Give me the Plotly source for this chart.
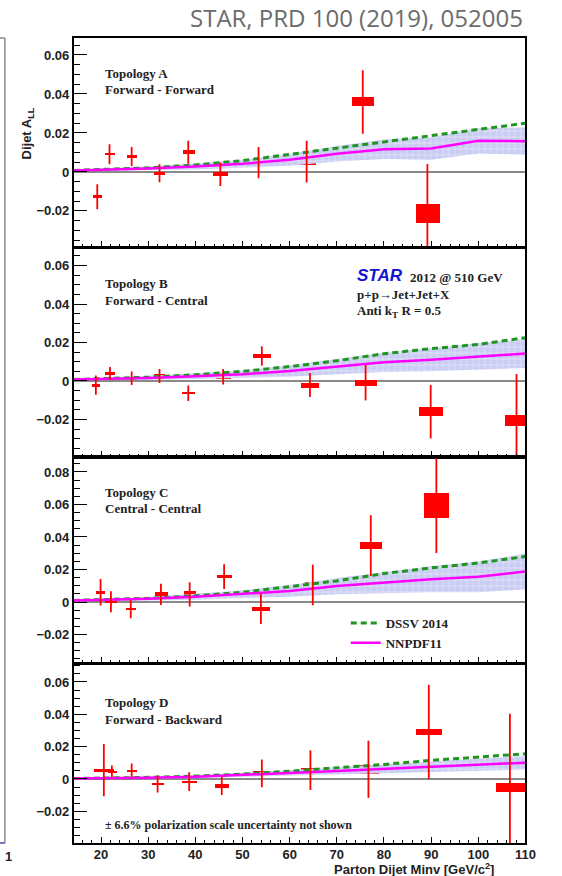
import plotly.graph_objects as go

W, H = 562, 876

# ---------------- data ----------------
panels = ["A", "B", "C", "D"]
topology_titles = ["Topology A", "Topology B", "Topology C", "Topology D"]
topology_sub = ["Forward - Forward", "Forward - Central", "Central - Central", "Forward - Backward"]

xA = [19.2, 21.8, 26.5, 32.4, 38.5, 45.3, 53.4, 63.6, 75.5, 89.2]
yA = [-0.0127, 0.0091, 0.0079, -0.0007, 0.0101, -0.0012, 0.0048, 0.0053, 0.0359, -0.0212]
statA = [0.0064, 0.0051, 0.0049, 0.0046, 0.0059, 0.0060, 0.0080, 0.0107, 0.0163, 0.0253]
sxA = [0.95, 1.0, 1.1, 1.2, 1.25, 1.6, 1.75, 2.0, 2.35, 2.55]
syA = [0.0007, 0.0006, 0.0006, 0.0009, 0.0009, 0.0011, 0.0017, 0.0016, 0.0023, 0.0050]

xB = [18.9, 21.9, 26.5, 32.4, 38.5, 45.9, 54.1, 64.3, 76.1, 89.9, 108.1]
yB = [-0.0022, 0.0040, 0.0014, 0.0026, -0.0064, 0.0022, 0.0130, -0.0021, -0.0009, -0.0160, -0.0206]
statB = [0.0050, 0.0033, 0.0035, 0.0036, 0.0040, 0.0040, 0.0050, 0.0062, 0.0092, 0.0139, 0.0242]
sxB = [0.9, 1.05, 1.1, 1.2, 1.35, 1.5, 1.85, 1.9, 2.25, 2.55, 2.5]
syB = [0.0005, 0.0005, 0.0005, 0.0008, 0.0006, 0.0013, 0.0011, 0.0013, 0.0016, 0.0023, 0.0030]

xC = [19.9, 22.1, 26.3, 32.7, 38.8, 46.1, 53.9, 64.9, 77.2, 91.1]
yC = [0.0060, 0.0002, -0.0043, 0.0047, 0.0047, 0.0156, -0.0043, 0.0105, 0.0347, 0.0593]
statC = [0.0082, 0.0065, 0.0056, 0.0065, 0.0075, 0.0076, 0.0092, 0.0125, 0.0187, 0.0292]
sxC = [0.95, 1.25, 1.15, 1.4, 1.3, 1.5, 1.9, 1.8, 2.4, 2.7]
syC = [0.0006, 0.0007, 0.0006, 0.0012, 0.0018, 0.0010, 0.0015, 0.0020, 0.0021, 0.0077]

xD = [20.6, 22.3, 26.5, 32.0, 38.7, 45.6, 54.1, 64.4, 76.7, 89.5, 106.7]
yD = [0.0055, 0.0045, 0.0051, -0.0031, -0.0016, -0.0043, 0.0035, 0.0055, 0.0060, 0.0291, -0.0053]
statD = [0.0162, 0.0038, 0.0045, 0.0053, 0.0058, 0.0056, 0.0086, 0.0123, 0.0177, 0.0292, 0.0457]
sxD = [2.15, 0.95, 1.05, 1.3, 1.5, 1.5, 1.85, 2.0, 2.25, 2.8, 3.1]
syD = [0.0006, 0.0006, 0.0006, 0.0006, 0.0006, 0.0011, 0.0012, 0.0015, 0.0028, 0.0020, 0.0029]

# theory curves (on a common mass grid)
theory_x = [14.2, 20, 30, 40, 50, 60, 70, 80, 90, 100, 110]
dssvA = [0.0008, 0.0012, 0.0021, 0.0036, 0.0058, 0.0090, 0.0122, 0.0152, 0.0183, 0.0215, 0.0250]
nnpdfA = [0.0008, 0.0011, 0.0018, 0.0028, 0.0042, 0.0062, 0.0093, 0.0116, 0.0120, 0.0160, 0.0158]
bandA = [0.0003, 0.0005, 0.0010, 0.0015, 0.0020, 0.0030, 0.0040, 0.0050, 0.0058, 0.0065, 0.0070]

dssvB = [0.0008, 0.0012, 0.0020, 0.0032, 0.0050, 0.0075, 0.0105, 0.0142, 0.0168, 0.0190, 0.0225]
nnpdfB = [0.0008, 0.0010, 0.0016, 0.0025, 0.0035, 0.0052, 0.0075, 0.0097, 0.0110, 0.0128, 0.0143]
bandB = [0.0003, 0.0005, 0.0010, 0.0015, 0.0020, 0.0030, 0.0040, 0.0050, 0.0060, 0.0070, 0.0075]

dssvC = [0.0010, 0.0014, 0.0023, 0.0038, 0.0060, 0.0095, 0.0130, 0.0175, 0.0210, 0.0240, 0.0280]
nnpdfC = [0.0010, 0.0012, 0.0020, 0.0032, 0.0048, 0.0068, 0.0098, 0.0118, 0.0140, 0.0155, 0.0188]
bandC = [0.0003, 0.0005, 0.0010, 0.0018, 0.0025, 0.0035, 0.0050, 0.0065, 0.0080, 0.0095, 0.0110]

dssvD = [0.0003, 0.0005, 0.0010, 0.0018, 0.0030, 0.0048, 0.0068, 0.0090, 0.0115, 0.0135, 0.0156]
nnpdfD = [0.0003, 0.0004, 0.0008, 0.0014, 0.0024, 0.0037, 0.0050, 0.0063, 0.0077, 0.0090, 0.0101]
bandD = [0.0002, 0.0003, 0.0005, 0.0008, 0.0012, 0.0017, 0.0022, 0.0028, 0.0033, 0.0038, 0.0043]

x_range = [14.2, 110]
y_ranges = [[-0.0385, 0.0687], [-0.0395, 0.0691], [-0.0375, 0.0892], [-0.0396, 0.0711]]
x_tick_step = 10
y_tick_step = 0.02

data = {
    "A": (xA, yA, statA, sxA, syA, dssvA, nnpdfA, bandA),
    "B": (xB, yB, statB, sxB, syB, dssvB, nnpdfB, bandB),
    "C": (xC, yC, statC, sxC, syC, dssvC, nnpdfC, bandC),
    "D": (xD, yD, statD, sxD, syD, dssvD, nnpdfD, bandD),
}

# ---------------- layout geometry (pixels) ----------------
plot_left, plot_right = 75, 535
panel_px = [(38, 247), (248, 457), (457, 663), (664, 843)]

RED = "#ff0000"
GREEN = "#1f961f"
MAGENTA = "#ff00ff"
BAND = "#c9ccf3"
SERIF = "Liberation Serif"
SANS = "Liberation Sans"

fig = go.Figure()

for i, p in enumerate(panels):
    n = i + 1
    xs, ys, st, sx, sy, dssv, nnpdf, band = data[p]
    xa = "x" if n == 1 else f"x{n}"
    ya = "y" if n == 1 else f"y{n}"
    lo = [c - e for c, e in zip(nnpdf, band)]
    hi = [c + e for c, e in zip(nnpdf, band)]
    fig.add_trace(go.Scatter(x=theory_x, y=lo, mode="lines", line=dict(width=0),
                             xaxis=xa, yaxis=ya, showlegend=False, hoverinfo="skip"))
    fig.add_trace(go.Scatter(x=theory_x, y=hi, mode="lines", line=dict(width=0),
                             fill="tonexty", fillcolor=BAND,
                             fillpattern=dict(shape="+", bgcolor=BAND, fgcolor="white",
                                              size=6, solidity=0.12, fillmode="replace"),
                             xaxis=xa, yaxis=ya, showlegend=False, hoverinfo="skip"))
    fig.add_trace(go.Scatter(x=theory_x, y=dssv, mode="lines", name="DSSV 2014",
                             line=dict(color=GREEN, width=3, dash="6px,4px"),
                             xaxis=xa, yaxis=ya, showlegend=(p == "C")))
    fig.add_trace(go.Scatter(x=theory_x, y=nnpdf, mode="lines", name="NNPDF11",
                             line=dict(color=MAGENTA, width=2.5),
                             xaxis=xa, yaxis=ya, showlegend=(p == "C")))
    # systematic boxes
    fig.add_trace(go.Bar(x=xs, y=[2 * s for s in sy], base=[c - s for c, s in zip(ys, sy)],
                         width=[2 * w for w in sx], marker=dict(color=RED, line=dict(width=0)),
                         xaxis=xa, yaxis=ya, showlegend=False, hoverinfo="skip"))
    # statistical error bars
    fig.add_trace(go.Scatter(x=xs, y=ys, mode="markers", marker=dict(size=1, color=RED),
                             error_y=dict(type="data", array=st, visible=True, color=RED,
                                          thickness=1.8, width=0),
                             xaxis=xa, yaxis=ya, showlegend=False))

layout = dict(
    width=W, height=H, autosize=False,
    margin=dict(l=0, r=0, t=0, b=0),
    paper_bgcolor="white", plot_bgcolor="white",
    barmode="overlay", bargap=0,
    showlegend=True,
    legend=dict(x=352 / W, y=1 - 608 / H, xanchor="left", yanchor="top",
                traceorder="normal",
                bgcolor="rgba(0,0,0,0)", font=dict(family=SERIF, size=13, color="#222", weight="bold"),
                itemwidth=30, tracegroupgap=0),
)

for i in range(4):
    n = i + 1
    top, bot = panel_px[i]
    xk = "xaxis" if n == 1 else f"xaxis{n}"
    yk = "yaxis" if n == 1 else f"yaxis{n}"
    layout[xk] = dict(
        domain=[plot_left / W, plot_right / W], range=x_range,
        anchor="y" if n == 1 else f"y{n}",
        showline=True, mirror=True, linecolor="black", linewidth=1.5,
        ticks="inside", ticklen=6, tickwidth=1, tickcolor="black",
        tick0=0, dtick=x_tick_step,
        minor=dict(ticks="inside", dtick=2, ticklen=3, tickcolor="black", showgrid=False),
        showgrid=False, zeroline=False, showticklabels=(n == 4),
        ticklabelstandoff=-1,
        tickfont=dict(family=SANS, size=13, color="#222", weight="bold"),
    )
    layout[yk] = dict(
        domain=[1 - bot / H, 1 - top / H], range=y_ranges[i],
        anchor="x" if n == 1 else f"x{n}",
        showline=True, mirror=True, linecolor="black", linewidth=1.5,
        ticks="inside", ticklen=14, tickwidth=1, tickcolor="black",
        tick0=0, dtick=y_tick_step,
        minor=dict(ticks="inside", dtick=0.005, ticklen=7, tickcolor="black", showgrid=False),
        showgrid=False, zeroline=True, zerolinecolor="#8a8a8a", zerolinewidth=1.5,
        tickfont=dict(family=SANS, size=13, color="#222", weight="bold"),
    )

fig.update_layout(**layout)

ann = []
def txt(x, y, s, size=13, family=SERIF, color="#222", xanchor="left", **kw):
    ann.append(dict(x=x / W, y=1 - y / H, xref="paper", yref="paper", text=s, showarrow=False,
                    xanchor=xanchor, yanchor="middle",
                    font=dict(family=family, size=size, color=color), **kw))

tops = [73, 283, 492, 702]
for i in range(4):
    txt(105, tops[i], "<b>" + topology_titles[i] + "</b>")
    txt(105, tops[i] + 17, "<b>" + topology_sub[i] + "</b>")

txt(361, 276, "<b><i>STAR</i></b>", size=17, family=SANS, color="#1414d8")
txt(415, 277, "<b>2012 @ 510 GeV</b>")
txt(361, 294, "<b>p+p→Jet+Jet+X</b>")
txt(361, 311, "<b>Anti k<sub>T</sub> R = 0.5</b>")
txt(105, 825, "<b>± 6.6% polarization scale uncertainty not shown</b>", size=12)

txt(504, 868.5, "<b>Parton Dijet Minv [GeV/c<sup>2</sup>]</b>", size=13, family=SANS, xanchor="right",
    borderpad=0)
ann.append(dict(x=29 / W, y=1 - 133 / H, xref="paper", yref="paper",
                text="<b>Dijet A<sub>LL</sub></b>", showarrow=False, textangle=-90,
                xanchor="center", yanchor="middle",
                font=dict(family=SANS, size=13, color="#222")))
ann.append(dict(x=535 / W, y=1 - 18 / H, xref="paper", yref="paper",
                text="STAR, PRD 100 (2019), 052005", showarrow=False,
                xanchor="right", yanchor="middle",
                font=dict(family="Open Sans", size=24, color="#6b6b6b")))
txt(3, 856, "<b>1</b>", size=13, family=SANS)

shapes = [
    dict(type="line", xref="paper", yref="paper", x0=5 / W, x1=5 / W, y0=1 - 38 / H, y1=1 - 843 / H,
         line=dict(color="#8a8a8a", width=1.5)),
    dict(type="line", xref="paper", yref="paper", x0=0, x1=5 / W, y0=1 - 38 / H, y1=1 - 38 / H,
         line=dict(color="#8a8a8a", width=1.5)),
    dict(type="line", xref="paper", yref="paper", x0=0, x1=5 / W, y0=1 - 843 / H, y1=1 - 843 / H,
         line=dict(color="#5b45a0", width=1.5)),
]
fig.update_layout(annotations=ann, shapes=shapes)

post = """
document.documentElement.style.margin='0px';
document.documentElement.style.overflow='hidden';
document.body.style.margin='0px';
document.body.style.overflow='hidden';
"""

fig.write_html("out.html",
               config={"responsive": False, "displayModeBar": False},
               post_script=post)
